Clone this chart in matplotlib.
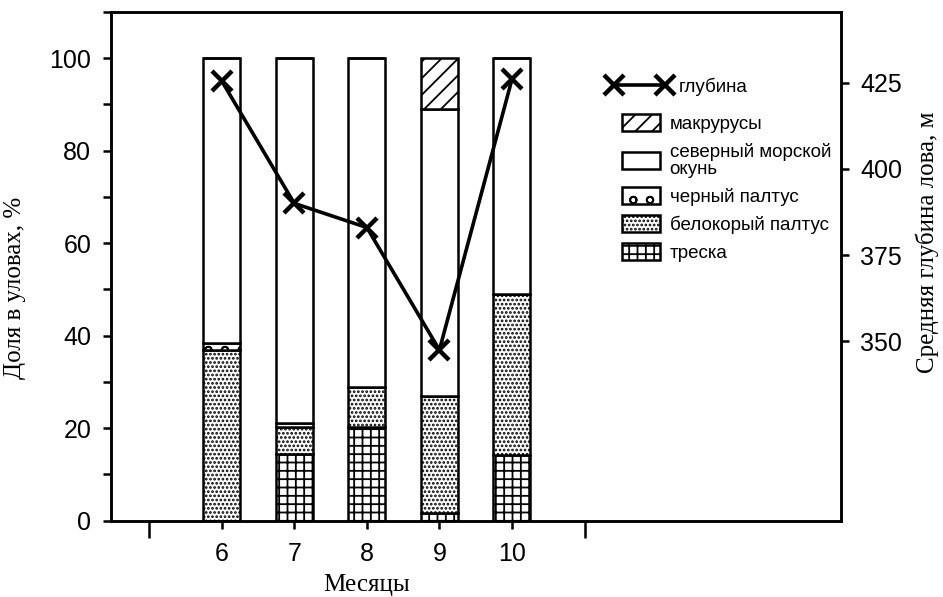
import numpy as np
import matplotlib
matplotlib.use("Agg")
import matplotlib.pyplot as plt
from matplotlib.patches import Patch
from matplotlib.lines import Line2D

# Месяцы и доли видов в уловах, %
months = [6, 7, 8, 9, 10]
treska = [0.0, 14.4, 20.3, 1.6, 14.2]
belokory = [36.8, 5.8, 8.5, 25.4, 34.8]
cherny = [1.7, 1.0, 0.0, 0.0, 0.0]
okun = [61.5, 78.8, 71.2, 62.0, 51.0]
makrurusy = [0.0, 0.0, 0.0, 11.0, 0.0]

# Средняя глубина лова, м
depth = [425.5, 390.0, 383.0, 347.5, 426.0]

species = [
    ("треска", treska, "++"),
    ("белокорый палтус", belokory, "...."),
    ("черный палтус", cherny, "o"),
    ("северный морской\nокунь", okun, ""),
    ("макрурусы", makrurusy, "//"),
]

plt.rcParams["hatch.linewidth"] = 1.3
sans = "Liberation Sans"
serif = "Liberation Serif"
lw = 1.8

fig = plt.figure(figsize=(9.43, 5.97), dpi=100)
ax = fig.add_axes([0.1174, 0.1278, 0.7741, 0.8522])

bottom = np.zeros(len(months))
handles = []
for name, vals, hatch in species:
    vals = np.array(vals)
    ax.bar(months, vals, width=0.51, bottom=bottom, color="white",
           edgecolor="black", linewidth=lw, hatch=hatch, zorder=2)
    bottom += vals
    handles.append(Patch(facecolor="white", edgecolor="black",
                         linewidth=lw, hatch=hatch, label=name))

ax.set_xlim(4.47, 14.53)
ax.set_ylim(0, 110)
ax.set_xticks(months)
ax.set_xticks([5, 11], minor=True)
ax.tick_params(axis="x", which="major", length=6, width=lw, labelsize=18,
               pad=9)
ax.tick_params(axis="x", which="minor", length=12, width=lw)
ax.set_yticks(np.arange(0, 111, 10))
ax.set_yticklabels([str(v) if v % 20 == 0 and v <= 100 else ""
                    for v in range(0, 111, 10)])
ax.tick_params(axis="y", length=6, width=lw, labelsize=18, pad=8)
for lab in ax.get_xticklabels() + ax.get_yticklabels():
    lab.set_family(sans)
for sp in ax.spines.values():
    sp.set_linewidth(lw)

ax.set_xlabel("Месяцы", family=serif, fontsize=18)
ax.xaxis.set_label_coords(0.351, -0.104)
ax.set_ylabel("Доля в уловах, %", family=serif, fontsize=18)
ax.yaxis.set_label_coords(-0.116, 0.457)

# Правая ось: глубина
ax2 = ax.twinx()
ax2.plot(months, depth, color="black", linewidth=2.6, marker="x",
         markersize=14, markeredgewidth=3.2, zorder=5)
ax2.set_ylim(298, 445.5)
ax2.set_yticks([350, 375, 400, 425])
ax2.tick_params(axis="y", length=6, width=lw, labelsize=18, pad=8)
for lab in ax2.get_yticklabels():
    lab.set_family(sans)
for sp in ax2.spines.values():
    sp.set_linewidth(lw)
ax2.set_ylabel("Средняя глубина лова, м", family=serif, fontsize=18,
               rotation=90)
ax2.yaxis.set_label_coords(1.102, 0.547)

leg_font = {"family": sans, "size": 13.5}
line_handle = Line2D([], [], color="black", linewidth=2.6, marker="x",
                     markersize=14, markeredgewidth=3.2)
leg1 = ax2.legend([line_handle], ["глубина"], loc="upper left",
                  bbox_to_anchor=(0.669, 0.890), frameon=False, numpoints=2,
                  borderpad=0, handlelength=3.3, handletextpad=0.45,
                  prop=leg_font)
ax2.add_artist(leg1)
leg2 = ax2.legend(handles[::-1], [h.get_label() for h in handles[::-1]],
                  loc="upper left", bbox_to_anchor=(0.688, 0.817),
                  frameon=False, borderpad=0, handlelength=2.03,
                  handleheight=1.0, handletextpad=0.5, labelspacing=0.5,
                  prop=leg_font)
for t in leg2.get_texts():
    t.set_linespacing(1.0)

fig.savefig("out.png", dpi=100)
